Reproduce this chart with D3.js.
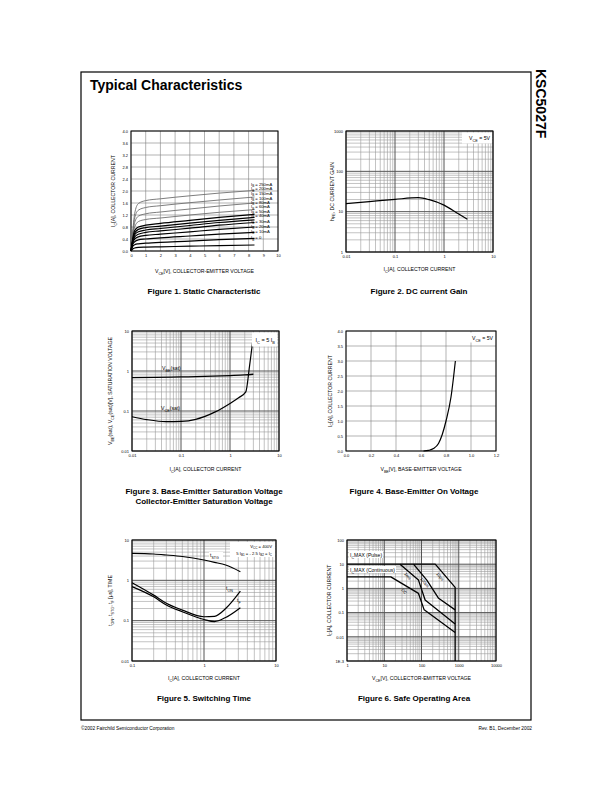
<!DOCTYPE html>
<html><head><meta charset="utf-8">
<script src="https://cdn.jsdelivr.net/npm/d3@7"></script>
<style>body{margin:0;background:#fff} svg{display:block}</style>
</head><body><svg id="c" width="612" height="792"></svg>
<script>
// ================= DATA =================
// Figure 1: Static characteristic
const fig1Vce = [0, 0.1, 0.25, 0.5, 1, 2, 4, 6, 8.4];
const fig1IbLabels = ["250mA","200mA","150mA","100mA","80mA","60mA","50mA","40mA","30mA","20mA","10mA","0"];
const fig1Ic250 = [0, 0.55, 1.25, 1.58, 1.68, 1.74, 1.84, 1.93, 2.02];
const fig1Ic200 = [0, 0.50, 1.10, 1.36, 1.45, 1.51, 1.61, 1.70, 1.80];
const fig1Ic150 = [0, 0.45, 0.95, 1.16, 1.24, 1.30, 1.40, 1.50, 1.60];
const fig1Ic100 = [0, 0.40, 0.80, 0.98, 1.05, 1.10, 1.20, 1.29, 1.38];
const fig1Ic80  = [0, 0.35, 0.68, 0.80, 0.86, 0.92, 1.02, 1.12, 1.22];
const fig1Ic60  = [0, 0.32, 0.60, 0.72, 0.78, 0.83, 0.93, 1.02, 1.12];
const fig1Ic50  = [0, 0.30, 0.54, 0.64, 0.70, 0.75, 0.85, 0.95, 1.04];
const fig1Ic40  = [0, 0.27, 0.47, 0.56, 0.62, 0.67, 0.76, 0.86, 0.95];
const fig1Ic30  = [0, 0.24, 0.40, 0.47, 0.52, 0.56, 0.64, 0.72, 0.80];
const fig1Ic20  = [0, 0.20, 0.31, 0.37, 0.40, 0.44, 0.50, 0.56, 0.62];
const fig1Ic10  = [0, 0.14, 0.21, 0.24, 0.26, 0.29, 0.33, 0.38, 0.42];
const fig1Ic0   = [0, 0.06, 0.10, 0.12, 0.13, 0.14, 0.16, 0.18, 0.20];
const fig1Series = [fig1Ic250, fig1Ic200, fig1Ic150, fig1Ic100, fig1Ic80, fig1Ic60, fig1Ic50, fig1Ic40, fig1Ic30, fig1Ic20, fig1Ic10, fig1Ic0];
const fig1LabelIc = [2.22, 2.07, 1.92, 1.76, 1.61, 1.47, 1.33, 1.19, 1.0, 0.82, 0.66, 0.44];
const fig1XTicks = [0,1,2,3,4,5,6,7,8,9,10];
const fig1XLabels = ["0","1","2","3","4","5","6","7","8","9","10"];
const fig1YTicks = [0,0.4,0.8,1.2,1.6,2.0,2.4,2.8,3.2,3.6,4.0];
const fig1YLabels = ["0.0","0.4","0.8","1.2","1.6","2.0","2.4","2.8","3.2","3.6","4.0"];

// Figure 2: DC current gain
const fig2Ic  = [0.01, 0.03, 0.1, 0.3, 0.5, 1, 2, 3];
const fig2Hfe = [15.8, 17.8, 20.2, 22.2, 19.8, 14.5, 8.7, 6.5];
const fig2XTicks = [0.01, 0.1, 1, 10];
const fig2XLabels = ["0.01","0.1","1","10"];
const fig2YTicks = [1, 10, 100, 1000];
const fig2YLabels = ["1","10","100","1000"];

// Figure 3: saturation voltages
const fig3IcBe = [0.01, 0.03, 0.1, 0.3, 1, 2, 3];
const fig3Vbe  = [0.68, 0.69, 0.71, 0.73, 0.77, 0.80, 0.83];
const fig3IcCe = [0.01, 0.02, 0.05, 0.1, 0.2, 0.5, 1, 1.5, 2.1, 2.5, 2.9];
const fig3Vce  = [0.072, 0.061, 0.054, 0.055, 0.062, 0.095, 0.155, 0.215, 0.30, 1.3, 5.4];
const fig3XTicks = [0.01, 0.1, 1, 10];
const fig3XLabels = ["0.01","0.1","1","10"];
const fig3YTicks = [0.01, 0.1, 1, 10];
const fig3YLabels = ["0.01","0.1","1","10"];

// Figure 4: base-emitter on voltage
const fig4Vbe = [0.62, 0.66, 0.70, 0.74, 0.77, 0.80, 0.84, 0.875];
const fig4Ic  = [0, 0.02, 0.08, 0.25, 0.55, 1.0, 1.8, 3.0];
const fig4XTicks = [0, 0.2, 0.4, 0.6, 0.8, 1.0, 1.2];
const fig4XLabels = ["0.0","0.2","0.4","0.6","0.8","1.0","1.2"];
const fig4YTicks = [0, 0.5, 1.0, 1.5, 2.0, 2.5, 3.0, 3.5, 4.0];
const fig4YLabels = ["0.0","0.5","1.0","1.5","2.0","2.5","3.0","3.5","4.0"];

// Figure 5: switching time
const fig5Ic   = [0.1, 0.2, 0.3, 0.5, 1, 1.4, 2, 3.2];
const fig5Tstg = [4.67, 4.5, 4.25, 3.9, 3.19, 2.8, 2.4, 1.64];
const fig5Ton  = [0.875, 0.43, 0.27, 0.183, 0.125, 0.128, 0.2, 0.54];
const fig5Tf   = [0.70, 0.39, 0.245, 0.166, 0.107, 0.095, 0.12, 0.21];
const fig5XTicks = [0.1, 1, 10];
const fig5XLabels = ["0.1","1","10"];
const fig5YTicks = [0.01, 0.1, 1, 10];
const fig5YLabels = ["0.01","0.1","1","10"];

// Figure 6: safe operating area
const fig6PulseV = [1, 234, 800, 800];
const fig6PulseI = [10, 10, 1.1, 0.001];
const fig6DcV = [1, 15, 83, 118, 800];
const fig6DcI = [3, 3, 0.62, 0.13, 0.015];
const fig6B_V = [26.5, 83, 125, 800];
const fig6B_I = [10, 2.2, 0.33, 0.034];
const fig6C_V = [61, 139, 288, 800];
const fig6C_I = [10, 2.2, 0.39, 0.13];
const fig6CurveLabels = ["DC","1ms","100\u00b5s","10\u00b5s"];
const fig6XTicks = [1, 10, 100, 1000, 10000];
const fig6XLabels = ["1","10","100","1000","10000"];
const fig6YTicks = [0.001, 0.01, 0.1, 1, 10, 100];
const fig6YLabels = ["1E-3","0.01","0.1","1","10","100"];

// ================= DRAWING =================
const FONT = '"Liberation Sans", Arial, Helvetica, sans-serif';
const svg = d3.select("#c");
const zip = (a, b) => a.map((v, i) => [v, b[i]]);

function rich(t, s, fs) {
  const re = /_\{([^}]*)\}/g; let last = 0, m; const parts = [];
  while ((m = re.exec(s))) { if (m.index > last) parts.push([s.slice(last, m.index), false]); parts.push([m[1], true]); last = re.lastIndex; }
  if (last < s.length) parts.push([s.slice(last), false]);
  let cur = 0;
  parts.forEach(([txt, sub]) => {
    const target = sub ? fs * 0.3 : 0;
    t.append("tspan").attr("dy", target - cur).attr("font-size", sub ? fs * 0.72 : fs).text(txt);
    cur = target;
  });
  return t;
}
function txt(x, y, s, fs, opt = {}) {
  const t = svg.append("text").attr("x", x).attr("y", y).attr("font-family", FONT)
    .attr("font-size", fs).attr("fill", "#000").attr("text-anchor", opt.anchor || "start")
    .attr("font-weight", opt.bold ? "bold" : "normal");
  if (opt.rotate !== undefined) t.attr("transform", `rotate(${opt.rotate},${x},${y})`);
  return rich(t, s, fs);
}
function logGrid(dom) {
  const out = []; const lo = Math.log10(dom[0]), hi = Math.log10(dom[1]);
  for (let e = Math.round(lo); e <= Math.round(hi); e++) {
    for (let k = 1; k <= 9; k++) {
      const v = k * Math.pow(10, e);
      if (v >= dom[0] * 0.999 && v <= dom[1] * 1.001) out.push({ v, major: k === 1 });
    }
  }
  return out;
}
function panel(c) {
  const xs = (c.xLog ? d3.scaleLog() : d3.scaleLinear()).domain(c.xDom).range([c.x0, c.x1]);
  const ys = (c.yLog ? d3.scaleLog() : d3.scaleLinear()).domain(c.yDom).range([c.y1, c.y0]);
  const g = svg.append("g");
  const gx = c.xLog ? logGrid(c.xDom) : c.xTicks.map(v => ({ v, major: false }));
  const gy = c.yLog ? logGrid(c.yDom) : c.yTicks.map(v => ({ v, major: false }));
  const minorCol = c.xLog || c.yLog ? "#9a9a9a" : "#808080";
  g.append("g").selectAll("line").data(gx.filter(d => !d.major)).join("line")
    .attr("x1", d => xs(d.v)).attr("x2", d => xs(d.v)).attr("y1", c.y0).attr("y2", c.y1)
    .attr("stroke", minorCol).attr("stroke-width", 0.6);
  g.append("g").selectAll("line").data(gy.filter(d => !d.major)).join("line")
    .attr("y1", d => ys(d.v)).attr("y2", d => ys(d.v)).attr("x1", c.x0).attr("x2", c.x1)
    .attr("stroke", minorCol).attr("stroke-width", 0.6);
  g.append("g").selectAll("line").data(gx.filter(d => d.major)).join("line")
    .attr("x1", d => xs(d.v)).attr("x2", d => xs(d.v)).attr("y1", c.y0).attr("y2", c.y1)
    .attr("stroke", "#555").attr("stroke-width", 1);
  g.append("g").selectAll("line").data(gy.filter(d => d.major)).join("line")
    .attr("y1", d => ys(d.v)).attr("y2", d => ys(d.v)).attr("x1", c.x0).attr("x2", c.x1)
    .attr("stroke", "#555").attr("stroke-width", 1);
  g.append("rect").attr("x", c.x0).attr("y", c.y0).attr("width", c.x1 - c.x0).attr("height", c.y1 - c.y0)
    .attr("fill", "none").attr("stroke", "#000").attr("stroke-width", 1);
  const styleAx = s => { s.select(".domain").remove(); s.attr("font-family", FONT).attr("font-size", 4);
    s.selectAll("text").attr("fill", "#000"); };
  g.append("g").attr("transform", `translate(0,${c.y1})`)
    .call(d3.axisBottom(xs).tickValues(c.xTicks).tickFormat((d, i) => c.xLabels[i]).tickSize(0).tickPadding(3)).call(styleAx);
  g.append("g").attr("transform", `translate(${c.x0},0)`)
    .call(d3.axisLeft(ys).tickValues(c.yTicks).tickFormat((d, i) => c.yLabels[i]).tickSize(0).tickPadding(3)).call(styleAx);
  txt((c.x0 + c.x1) / 2, c.xTitleY, c.xTitle, 5.2, { anchor: "middle" });
  txt(c.yTitleX, (c.y0 + c.y1) / 2, c.yTitle, 5.2, { anchor: "middle", rotate: -90 });
  return { xs, ys, g };
}
function curve(p, pts, opt = {}) {
  p.g.append("path").datum(pts)
    .attr("d", d3.line().x(d => p.xs(d[0])).y(d => p.ys(d[1])).curve(opt.linear ? d3.curveLinear : d3.curveMonotoneX))
    .attr("fill", "none").attr("stroke", opt.color || "#000").attr("stroke-width", opt.w || 1.1)
    .attr("stroke-linejoin", "round");
}
function box(x, y, w, h) {
  svg.append("rect").attr("x", x).attr("y", y).attr("width", w).attr("height", h).attr("fill", "#fff");
}

// Page frame & header
svg.append("rect").attr("x", 81).attr("y", 72).attr("width", 450).attr("height", 648)
  .attr("fill", "none").attr("stroke", "#000").attr("stroke-width", 1.2);
txt(90, 90, "Typical Characteristics", 14, { bold: true });
txt(536, 69, "KSC5027F", 14, { bold: true, rotate: 90 });
txt(81, 730, "\u00a92002 Fairchild Semiconductor Corporation", 4.8);
txt(532, 730, "Rev. B1, December 2002", 4.8, { anchor: "end" });

// ---- Figure 1 ----
const p1 = panel({ x0: 131, x1: 278, y0: 131, y1: 251, xDom: [0, 10], yDom: [0, 4],
  xTicks: fig1XTicks, xLabels: fig1XLabels, yTicks: fig1YTicks, yLabels: fig1YLabels,
  xTitle: "V_{CE}[V], COLLECTOR-EMITTER VOLTAGE", xTitleY: 273,
  yTitle: "I_{C}[A], COLLECTOR CURRENT", yTitleX: 115 });
fig1Series.forEach((s, i) => curve(p1, zip(fig1Vce, s), i < 4 ? { color: "#6e6e6e", w: 0.9 } : { w: 1.2 }));
fig1IbLabels.forEach((l, i) => txt(251, p1.ys(fig1LabelIc[i]) + 1.5, "I_{B} = " + l, 4.2));
txt(204, 294, "Figure 1. Static Characteristic", 8, { anchor: "middle", bold: true });

// ---- Figure 2 ----
const p2 = panel({ x0: 346, x1: 493, y0: 131, y1: 252, xLog: true, yLog: true, xDom: [0.01, 10], yDom: [1, 1000],
  xTicks: fig2XTicks, xLabels: fig2XLabels, yTicks: fig2YTicks, yLabels: fig2YLabels,
  xTitle: "I_{C}[A], COLLECTOR CURRENT", xTitleY: 271,
  yTitle: "h_{FE}, DC CURRENT GAIN", yTitleX: 333.5 });
curve(p2, zip(fig2Ic, fig2Hfe), { w: 1.2 });
box(462, 132.5, 30, 11);
txt(490, 140, "V_{CE} = 5V", 5.2, { anchor: "end" });
txt(419, 294, "Figure 2. DC current Gain", 8, { anchor: "middle", bold: true });

// ---- Figure 3 ----
const p3 = panel({ x0: 132, x1: 279, y0: 331, y1: 451, xLog: true, yLog: true, xDom: [0.01, 10], yDom: [0.01, 10],
  xTicks: fig3XTicks, xLabels: fig3XLabels, yTicks: fig3YTicks, yLabels: fig3YLabels,
  xTitle: "I_{C}[A], COLLECTOR CURRENT", xTitleY: 471,
  yTitle: "V_{BE}(sat), V_{CE}(sat)[V], SATURATION VOLTAGE", yTitleX: 112 });
curve(p3, zip(fig3IcBe, fig3Vbe), { w: 1.3 });
curve(p3, zip(fig3IcCe, fig3Vce), { w: 1.2 });
box(252, 332.5, 25, 14);
txt(275, 342, "I_{C} = 5 I_{B}", 5.5, { anchor: "end" });
txt(162, 370, "V_{BE}(sat)", 5.2);
txt(161, 410, "V_{CE}(sat)", 5.2);
txt(204, 494, "Figure 3. Base-Emitter Saturation Voltage", 8, { anchor: "middle", bold: true });
txt(204, 504, "Collector-Emitter Saturation Voltage", 8, { anchor: "middle", bold: true });

// ---- Figure 4 ----
const p4 = panel({ x0: 346, x1: 496, y0: 331, y1: 451, xDom: [0, 1.2], yDom: [0, 4],
  xTicks: fig4XTicks, xLabels: fig4XLabels, yTicks: fig4YTicks, yLabels: fig4YLabels,
  xTitle: "V_{BE}[V], BASE-EMITTER VOLTAGE", xTitleY: 471,
  yTitle: "I_{C}[A], COLLECTOR CURRENT", yTitleX: 331.5 });
curve(p4, zip(fig4Vbe, fig4Ic), { w: 1.2 });
box(466, 332.5, 28, 10);
txt(493, 340, "V_{CE} = 5V", 5.2, { anchor: "end" });
txt(414, 494, "Figure 4. Base-Emitter On Voltage", 8, { anchor: "middle", bold: true });

// ---- Figure 5 ----
const p5 = panel({ x0: 132, x1: 276, y0: 540, y1: 661, xLog: true, yLog: true, xDom: [0.1, 10], yDom: [0.01, 10],
  xTicks: fig5XTicks, xLabels: fig5XLabels, yTicks: fig5YTicks, yLabels: fig5YLabels,
  xTitle: "I_{C}[A], COLLECTOR CURRENT", xTitleY: 680,
  yTitle: "t_{ON}, t_{STG}, t_{F} [\u03bcs], TIME", yTitleX: 112 });
curve(p5, zip(fig5Ic, fig5Tstg), { w: 1.2 });
curve(p5, zip(fig5Ic, fig5Ton), { w: 1.2 });
curve(p5, zip(fig5Ic, fig5Tf), { w: 1.2 });
box(209, 552, 14, 6);
txt(210, 557, "t_{STG}", 5);
txt(226, 590, "t_{ON}", 5);
txt(237, 602, "t_{F}", 5);
box(230, 542, 45, 15);
txt(272, 548, "V_{CC} = 400V", 4.2, { anchor: "end" });
txt(272, 554.5, "5 I_{B1} = - 2.5 I_{B2} = I_{C}", 4.2, { anchor: "end" });
txt(204, 701, "Figure 5. Switching Time", 8, { anchor: "middle", bold: true });

// ---- Figure 6 ----
const p6 = panel({ x0: 347, x1: 496, y0: 540, y1: 661, xLog: true, yLog: true, xDom: [1, 10000], yDom: [0.001, 100],
  xTicks: fig6XTicks, xLabels: fig6XLabels, yTicks: fig6YTicks, yLabels: fig6YLabels,
  xTitle: "V_{CE}[V], COLLECTOR-EMITTER VOLTAGE", xTitleY: 680,
  yTitle: "I_{C}[A], COLLECTOR CURRENT", yTitleX: 330.5 });
curve(p6, zip(fig6PulseV, fig6PulseI), { linear: true, w: 1.3 });
curve(p6, zip(fig6DcV, fig6DcI), { linear: true, w: 1.3 });
curve(p6, zip(fig6B_V, fig6B_I), { linear: true, w: 1.3 });
curve(p6, zip(fig6C_V, fig6C_I), { linear: true, w: 1.3 });
box(349, 551, 34, 7);
txt(350, 557, "I_{C}MAX (Pulse)", 5);
box(349, 566, 47, 7);
txt(350, 572, "I_{C}MAX (Continuous)", 5);
const f6pos = [[401, 590], [404, 574], [420, 579], [436, 574]];
fig6CurveLabels.forEach((l, i) => txt(f6pos[i][0], f6pos[i][1], l, 4.2, { rotate: 50 }));
txt(414, 701, "Figure 6. Safe Operating Area", 8, { anchor: "middle", bold: true });
</script></body></html>
